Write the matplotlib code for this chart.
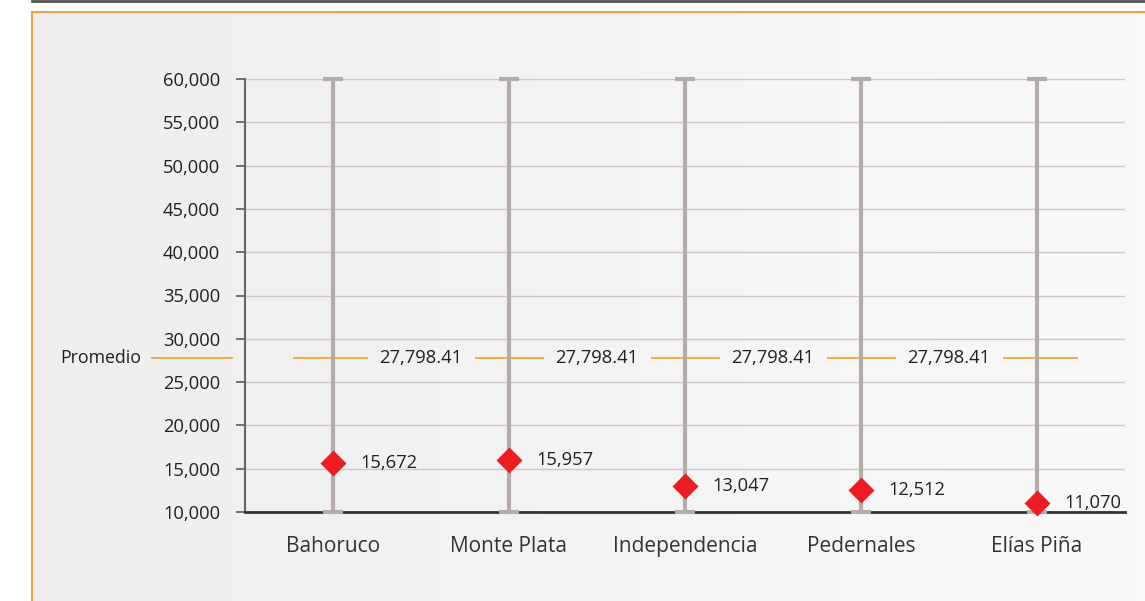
import matplotlib
matplotlib.use('Agg')
import matplotlib.pyplot as plt
import numpy as np
from matplotlib import font_manager as fm
from matplotlib.lines import Line2D
from matplotlib.colors import LinearSegmentedColormap
from matplotlib.ticker import FuncFormatter
import matplotlib.transforms as mtrans

# ---------------- data ----------------
categories = ['Bahoruco', 'Monte Plata', 'Independencia', 'Pedernales', 'Elías Piña']
values = [15672, 15957, 13047, 12512, 11070]
range_low = [10000, 10000, 10000, 10000, 10000]
range_high = [60000, 60000, 60000, 60000, 60000]
promedio = 27798.41
promedio_label = 'Promedio'
yticks = [10000, 15000, 20000, 25000, 30000, 35000, 40000, 45000, 50000, 55000, 60000]

# ---------------- fonts ----------------
avail = {f.name for f in fm.fontManager.ttflist}
fam = 'Open Sans' if 'Open Sans' in avail else 'DejaVu Sans'
plt.rcParams['font.family'] = [fam, 'DejaVu Sans']

txt_color = '#231f20'
W, H = 1145, 601
fig = plt.figure(figsize=(W / 100, H / 100), dpi=100)
fig.patch.set_facecolor('white')

# background panel with gradient
bg_left, bg_top = 32, 12
bg = fig.add_axes([bg_left / W, 0, 1 - bg_left / W, (H - bg_top) / H])
cmap = LinearSegmentedColormap.from_list('bg', ['#eeeeee', '#f9f9f9'])
bg.imshow(np.linspace(0, 1, 256).reshape(1, -1), aspect='auto', cmap=cmap,
          extent=[0, 1, 0, 1], interpolation='bilinear')
bg.set_xlim(0, 1); bg.set_ylim(0, 1); bg.axis('off')
bg.set_zorder(0)

orange = '#f5a04a'
fig.add_artist(Line2D([bg_left / W, bg_left / W], [0, (H - bg_top) / H],
                      color=orange, lw=1.5, transform=fig.transFigure))
fig.add_artist(Line2D([bg_left / W, 1], [(H - bg_top) / H] * 2,
                      color=orange, lw=1.5, transform=fig.transFigure))
fig.add_artist(Line2D([bg_left / W, 1], [1 - 1 / H] * 2,
                      color='#555555', lw=2, transform=fig.transFigure))

# main axes
ax = fig.add_axes([245 / W, 89 / H, 880 / W, 433 / H])
ax.set_zorder(2)
ax.patch.set_alpha(0)
x = np.arange(len(categories))
ax.set_xlim(-0.5, len(categories) - 0.5)
ax.set_ylim(yticks[0], yticks[-1])

ax.set_yticks(yticks)
ax.yaxis.set_major_formatter(FuncFormatter(lambda v, p: f'{int(v):,}'))
ax.yaxis.grid(True, color='#cfc6c6', lw=1)
ax.set_axisbelow(True)
for s in ['top', 'right']:
    ax.spines[s].set_visible(False)
ax.spines['left'].set_color('#666666')
ax.spines['left'].set_linewidth(1.5)
ax.spines['bottom'].set_color('#333333')
ax.spines['bottom'].set_linewidth(2)
ax.tick_params(axis='y', length=6.5, width=1.3, color='#666666', pad=11.5,
               labelsize=13.2, labelcolor=txt_color)
ax.set_xticks(x)
ax.set_xticklabels(categories)
ax.tick_params(axis='x', length=0, pad=17.5, labelsize=15, labelcolor='#333333')

# range bars
low = np.array(range_low, dtype=float)
high = np.array(range_high, dtype=float)
center = (low + high) / 2
eb = ax.errorbar(x, center, yerr=[center - low, high - center], fmt='none',
                 ecolor='#b3aca9', elinewidth=3, capsize=7.5, capthick=3, zorder=3)
for art in eb.get_children():
    art.set_clip_on(False)

# promedio line with gaps for labels
line_x0 = x[0] - 0.22
line_x1 = x[-1] + 0.23
mids = [(x[i] + x[i + 1]) / 2 for i in range(len(x) - 1)]
lbl = f'{promedio:,.2f}'
texts = [ax.text(m, promedio, lbl, ha='center', va='center', fontsize=13.2,
                 color=txt_color, zorder=4) for m in mids]
fig.canvas.draw()
inv = ax.transData.inverted()
gap = 13
edges = [line_x0]
for t in texts:
    bb = t.get_window_extent()
    a = inv.transform((bb.x0 - gap, 0))[0]
    b = inv.transform((bb.x1 + gap, 0))[0]
    edges += [a, b]
edges.append(line_x1)
for i in range(0, len(edges), 2):
    ax.plot([edges[i], edges[i + 1]], [promedio] * 2, color='#f7a13a', lw=1.3, zorder=2.5)

blend = mtrans.blended_transform_factory(ax.transAxes, ax.transData)
ax.add_line(Line2D([(152 - 245) / 880, (232 - 245) / 880], [promedio] * 2,
                   color='#f7a13a', lw=1.3, transform=blend, clip_on=False))
ax.text((141 - 245) / 880, promedio, promedio_label, transform=blend, ha='right',
        va='center', fontsize=12.8, color=txt_color, clip_on=False)

# diamonds and value labels
ax.plot(x, values, 'D', color='#ed1c24', ms=13, zorder=5, clip_on=False, mec='none')
for xi, v in zip(x, values):
    ax.annotate(f'{v:,}', (xi, v), xytext=(20, 0), textcoords='offset points',
                ha='left', va='center', fontsize=13.2, color=txt_color, zorder=6)

fig.savefig('out.png', dpi=100, facecolor='white')
